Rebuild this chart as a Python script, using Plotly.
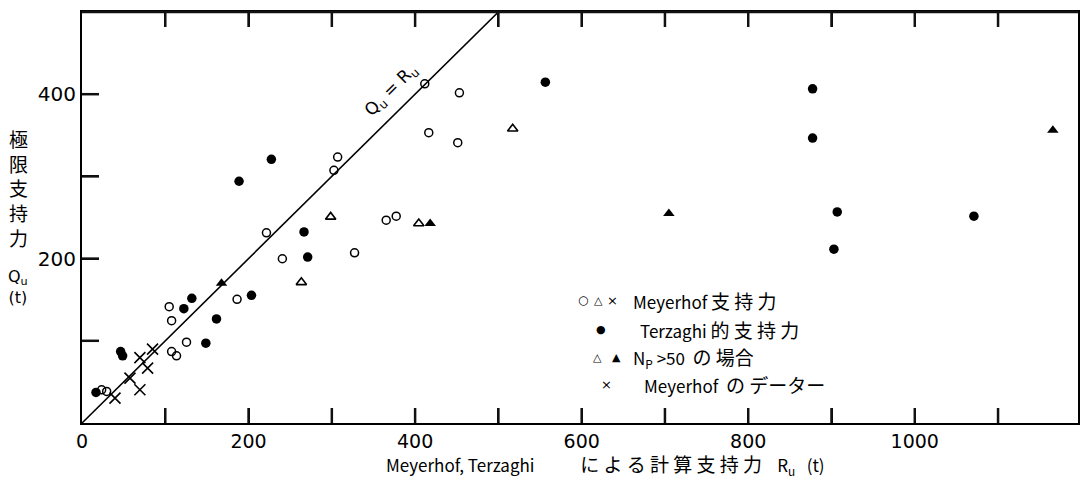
import plotly.graph_objects as go

# ---- data ----
meyerhof_open_x = [23.6, 29.6, 104.7, 107.6, 107.6, 113.5, 125.5, 186.2, 221.5, 240.6,
                   302.5, 307.0, 327.3, 365.3, 377.3, 416.4, 451.2, 411.6, 453.2]
meyerhof_open_y = [40.4, 38.4, 141.5, 124.5, 86.9, 81.7, 98.3, 150.5, 231.3, 199.8,
                   307.4, 323.5, 207.0, 246.7, 251.6, 353.2, 341.0, 412.6, 401.7]

terzaghi_x = [16.8, 46.4, 48.8, 122.3, 131.9, 148.7, 161.5, 203.5, 188.6, 227.4,
              266.6, 271.0, 556.4, 877.3, 877.3, 906.9, 902.9, 1071.0]
terzaghi_y = [37.2, 86.9, 81.7, 139.1, 151.7, 97.1, 126.6, 155.3, 294.1, 320.8,
              232.5, 201.8, 414.6, 406.5, 346.6, 256.8, 211.5, 251.6]

np50_meyerhof_x = [263.4, 298.6, 404.4, 517.2]
np50_meyerhof_y = [171.1, 250.7, 242.7, 358.0]

np50_terzaghi_x = [167.5, 418.1, 704.7, 1165.8]
np50_terzaghi_y = [169.9, 242.7, 254.9, 356.0]

meyerhof_data_x = [39.6, 57.6, 69.5, 69.5, 78.8, 84.7]
meyerhof_data_y = [30.3, 54.6, 40.4, 79.6, 66.7, 89.8]

equal_line_x = [0, 500]
equal_line_y = [0, 500]

x_range = [0, 1196]
y_range = [0, 500]
x_tick_vals = [0, 100, 200, 300, 400, 500, 600, 700, 800, 900, 1000, 1100]
x_tick_text = ["0", "", "200", "", "400", "", "600", "", "800", "", "1000", ""]
y_tick_vals = [100, 200, 300, 400]
y_tick_text = ["", "200", "", "400"]

FONT = "DejaVu Sans, Noto Sans CJK JP"
CJK = "Noto Sans CJK JP, DejaVu Sans"

fig = go.Figure()

fig.add_trace(go.Scatter(x=equal_line_x, y=equal_line_y, mode="lines",
                         line=dict(color="black", width=1.6), showlegend=False))
fig.add_trace(go.Scatter(x=meyerhof_open_x, y=meyerhof_open_y, mode="markers",
                         marker=dict(symbol="circle-open", size=8, color="black",
                                     line=dict(width=1.5, color="black")), showlegend=False))
fig.add_trace(go.Scatter(x=terzaghi_x, y=terzaghi_y, mode="markers",
                         marker=dict(symbol="circle", size=9.5, color="black"), showlegend=False))
fig.add_trace(go.Scatter(x=np50_meyerhof_x, y=np50_meyerhof_y, mode="markers",
                         marker=dict(symbol="triangle-up-open", size=9, color="black",
                                     line=dict(width=1.6, color="black")), showlegend=False))
fig.add_trace(go.Scatter(x=np50_terzaghi_x, y=np50_terzaghi_y, mode="markers",
                         marker=dict(symbol="triangle-up", size=10, color="black"), showlegend=False))
fig.add_trace(go.Scatter(x=meyerhof_data_x, y=meyerhof_data_y, mode="markers",
                         marker=dict(symbol="x-thin-open", size=11, color="black",
                                     line=dict(width=1.6, color="black")), showlegend=False))

# inside tick marks and top frame line, placed from the tick value lists
tick_line = dict(color="#111111", width=2.5)
shapes = []
for v in x_tick_vals[1:]:
    shapes.append(dict(type="line", xref="x", yref="y domain", ysizemode="pixel", yanchor=0,
                       x0=v, x1=v, y0=0, y1=15, line=tick_line, layer="above"))
    shapes.append(dict(type="line", xref="x", yref="y domain", ysizemode="pixel", yanchor=1,
                       x0=v, x1=v, y0=0, y1=-15, line=tick_line, layer="above"))
for v in y_tick_vals:
    shapes.append(dict(type="line", xref="x domain", yref="y", xsizemode="pixel", xanchor=0,
                       x0=0, x1=17, y0=v, y1=v, line=tick_line, layer="above"))
shapes.append(dict(type="line", xref="x domain", yref="y domain", x0=0, x1=1, y0=1, y1=1,
                   line=dict(color="#111111", width=2.5), layer="above"))

ann = []
ann.append(dict(x=372, y=404, xref="x", yref="y", text="Q<sub>u</sub> = R<sub>u</sub>",
                showarrow=False, textangle=-45, font=dict(family=FONT, size=17, color="black")))

def sym(x, y, t, size=12):
    ann.append(dict(x=x, y=y, xref="x", yref="y", text=t, showarrow=False,
                    xanchor="center", yanchor="middle",
                    font=dict(family="DejaVu Sans", size=size, color="black")))

def lbl(x, y, t):
    ann.append(dict(x=x, y=y, xref="x", yref="y", text=t, showarrow=False,
                    xanchor="left", yanchor="middle",
                    font=dict(family=CJK, size=17, color="black")))

def big(t, s=19):
    return '<span style="font-size:%dpx">' % s + t + '</span>'

sym(601, 149.6, "○"); sym(620, 149.6, "△", 11); sym(637, 149.6, "×", 13)
lbl(659, 149.6, "Meyerhof " + big("支 持 力"))
sym(623.5, 113.2, "●", 11)
lbl(668, 113.2, "Terzaghi " + big("的 支 持 力"))
sym(618.7, 79.2, "△", 11); sym(641.5, 79.2, "▲", 11)
lbl(659, 79.2, "N<sub>P</sub> >50\u00a0\u00a0" + big("の\u00a0場合"))
sym(629.5, 46.5, "×", 13)
lbl(672, 46.5, "Meyerhof\u00a0\u00a0" + big("の\u00a0データー"))

ann.append(dict(x=0.3036, y=-0.102, xref="paper", yref="paper",
                text="Meyerhof, Terzaghi" + "\u00a0" * 12
                     + big("に よ る 計 算 支 持 力", 19) + "\u00a0\u00a0\u00a0 R<sub>u</sub>\u00a0\u00a0 (t)",
                showarrow=False, xanchor="left", yanchor="middle",
                font=dict(family=CJK, size=17, color="black")))
ann.append(dict(x=-0.064, y=0.572, xref="paper", yref="paper",
                text="極<br>限<br>支<br>持<br>力", showarrow=False,
                xanchor="center", yanchor="middle",
                font=dict(family=CJK, size=19, color="black")))
ann.append(dict(x=-0.064, y=0.331, xref="paper", yref="paper",
                text="Q<sub>u</sub><br>(t)", showarrow=False,
                xanchor="center", yanchor="middle",
                font=dict(family=FONT, size=16, color="black")))

fig.update_layout(
    width=1084, height=479, autosize=False,
    margin=dict(l=82, r=4, t=12, b=56),
    plot_bgcolor="white", paper_bgcolor="white",
    annotations=ann, shapes=shapes,
    xaxis=dict(range=x_range, tickmode="array", tickvals=x_tick_vals, ticktext=x_tick_text,
               ticks="inside", ticklen=15, tickwidth=2, tickcolor="black",
               showline=True, linecolor="black", linewidth=2, mirror="allticks",
               showgrid=False, zeroline=False,
               tickfont=dict(family=FONT, size=19, color="black")),
    yaxis=dict(range=y_range, tickmode="array", tickvals=y_tick_vals, ticktext=y_tick_text,
               ticks="inside", ticklen=17, tickwidth=2, tickcolor="black",
               showline=True, linecolor="black", linewidth=2, mirror=True,
               showgrid=False, zeroline=False,
               tickfont=dict(family=FONT, size=20, color="black")),
)

fig.write_html("out.html", config={"displayModeBar": False},
               post_script="document.body.style.margin='0';document.body.style.overflow='hidden';")
